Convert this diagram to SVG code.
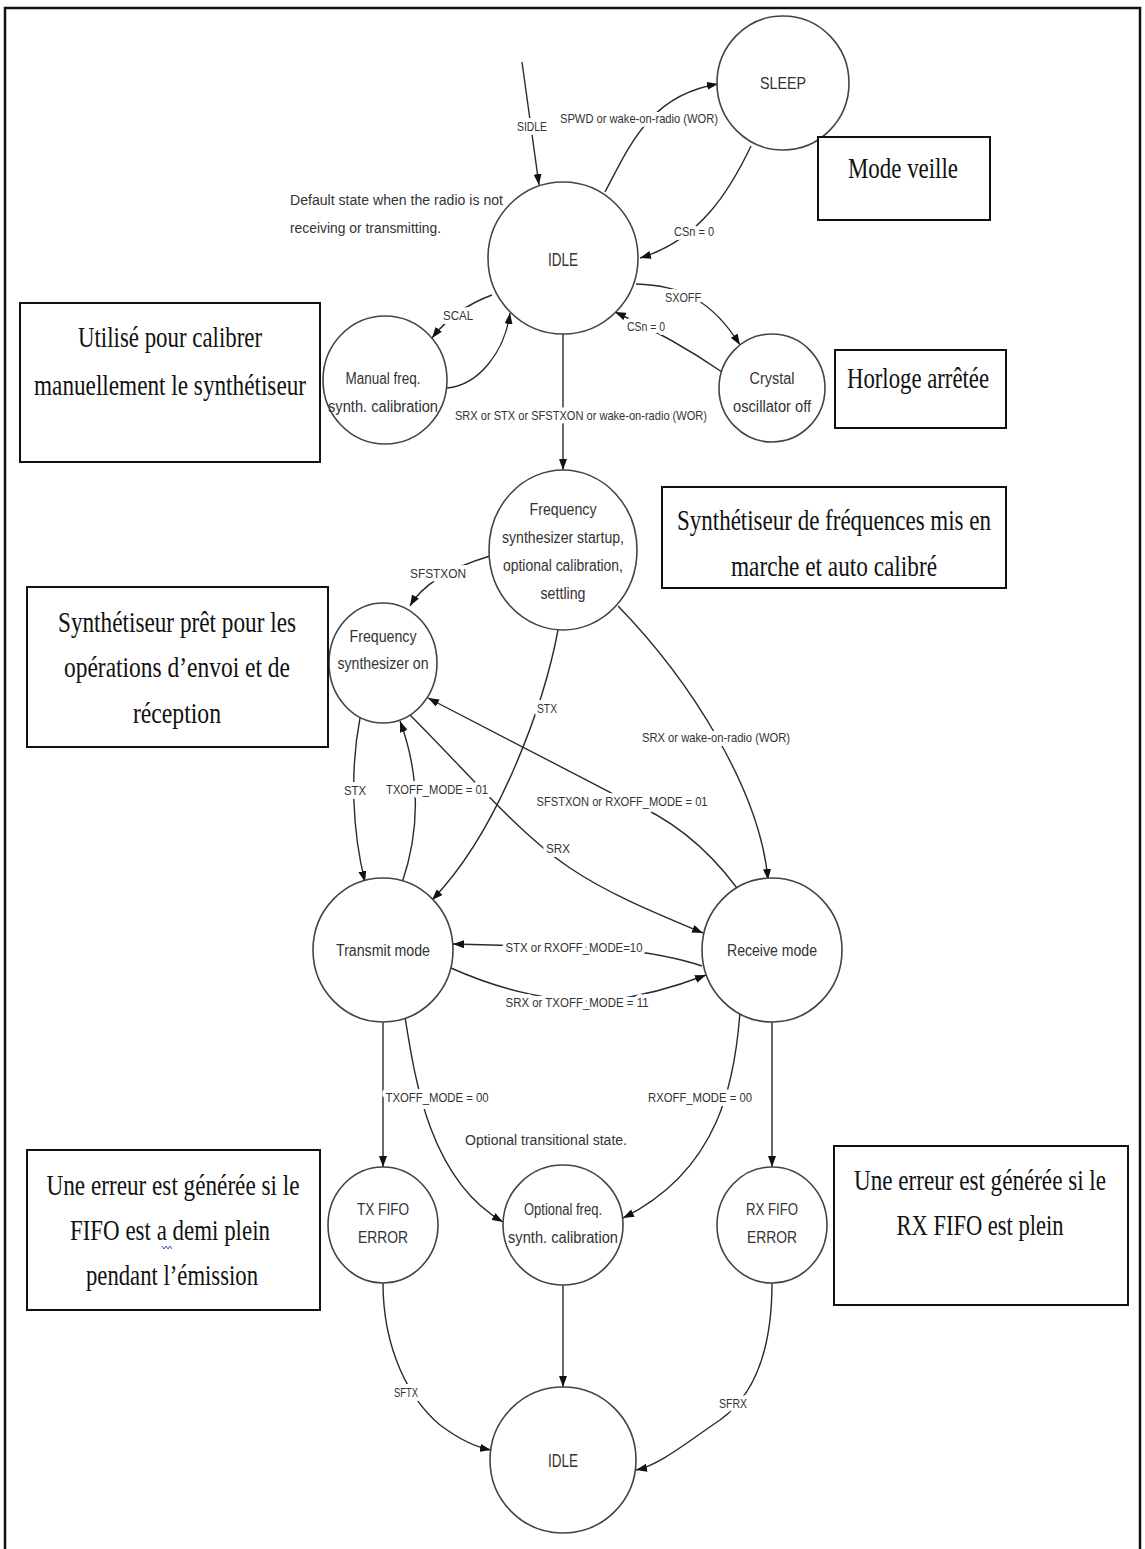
<svg xmlns="http://www.w3.org/2000/svg" width="1145" height="1549" viewBox="0 0 1145 1549">
<style>
.n{fill:#fff;stroke:#444;stroke-width:1.6}
.c{fill:none;stroke:#2a2a2a;stroke-width:1.4;marker-end:url(#ah)}
.nt,.lb{font-family:"Liberation Sans",Arial,sans-serif;fill:#333;text-anchor:middle;transform-box:fill-box;transform-origin:center;transform:scaleX(0.87)}
.nt{font-size:16px}
.lb{font-size:13px;paint-order:stroke;stroke:#fff;stroke-width:8px;stroke-linejoin:round}
.bx{fill:#fff;stroke:#111;stroke-width:2}
.bt{font-family:"Liberation Serif","Times New Roman",serif;font-size:30px;fill:#111;text-anchor:middle;transform-box:fill-box;transform-origin:center;transform:scaleX(0.76)}
</style>
<defs>
<marker id="ah" markerUnits="userSpaceOnUse" markerWidth="11" markerHeight="8" refX="11" refY="4" orient="auto">
<path d="M0,0 L11,4 L0,8 z" fill="#111"/>
</marker>
</defs>
<rect x="5" y="8" width="1135" height="1560" fill="#fff" stroke="#111" stroke-width="2.5"/>

<g id="connectors">
<path class="c" d="M522,62 L539,185"/>
<path class="c" d="M605,192 C630,145 650,95 718,84"/>
<path class="c" d="M751,146 C730,190 700,240 640,258"/>
<path class="c" d="M636,284 C680,285 712,300 740,345"/>
<path class="c" d="M722,372 C690,350 655,330 615,312"/>
<path class="c" d="M492,295 C470,303 450,315 432,338"/>
<path class="c" d="M447,388 C480,385 505,350 510,313"/>
<path class="c" d="M563,334 L563,470"/>
<path class="c" d="M490,556 C460,565 425,580 410,606"/>
<path class="c" d="M360,718 C350,770 352,830 365,882"/>
<path class="c" d="M402,883 C420,830 420,775 400,721"/>
<path class="c" d="M558,630 C545,700 500,830 432,900"/>
<path class="c" d="M618,606 C690,680 760,790 768,880"/>
<path class="c" d="M737,888 Q690,825 625,800 L428,698"/>
<path class="c" d="M410,715 C470,775 520,835 570,868 C610,895 660,915 703,933"/>
<path class="c" d="M702,966 Q670,955 610,948 L453,944"/>
<path class="c" d="M451,968 C500,990 560,1005 610,1000 C650,995 680,985 706,975"/>
<path class="c" d="M383,1020 L383,1167"/>
<path class="c" d="M405,1017 C415,1080 430,1180 503,1222"/>
<path class="c" d="M740,1012 C735,1080 720,1170 623,1218"/>
<path class="c" d="M772,1020 L772,1167"/>
<path class="c" d="M383,1283 C383,1350 410,1400 440,1425 C460,1440 475,1447 491,1450"/>
<path class="c" d="M563,1285 L563,1387"/>
<path class="c" d="M772,1283 C772,1350 755,1395 720,1420 C690,1440 660,1465 636,1470"/>
<g id="labels">
<text class="lb" x="532" y="131" textLength="34.5" lengthAdjust="spacingAndGlyphs">SIDLE</text>
<text class="lb" x="639" y="123" textLength="181.6" lengthAdjust="spacingAndGlyphs">SPWD or wake-on-radio (WOR)</text>
<text class="lb" x="694" y="236" textLength="46" lengthAdjust="spacingAndGlyphs">CSn = 0</text>
<text class="lb" x="683" y="302" textLength="41.4" lengthAdjust="spacingAndGlyphs">SXOFF</text>
<text class="lb" x="646" y="331" textLength="43.7" lengthAdjust="spacingAndGlyphs">CSn = 0</text>
<text class="lb" x="458" y="320" textLength="34.5" lengthAdjust="spacingAndGlyphs">SCAL</text>
<text class="lb" x="581" y="420" textLength="289.7" lengthAdjust="spacingAndGlyphs">SRX or STX or SFSTXON or wake-on-radio (WOR)</text>
<text class="lb" x="438" y="578" textLength="64.4" lengthAdjust="spacingAndGlyphs">SFSTXON</text>
<text class="lb" x="355" y="795" textLength="25.3" lengthAdjust="spacingAndGlyphs">STX</text>
<text class="lb" x="437" y="794" textLength="117.2" lengthAdjust="spacingAndGlyphs">TXOFF_MODE = 01</text>
<text class="lb" x="547" y="713" textLength="23" lengthAdjust="spacingAndGlyphs">STX</text>
<text class="lb" x="716" y="742" textLength="170.1" lengthAdjust="spacingAndGlyphs">SRX or wake-on-radio (WOR)</text>
<text class="lb" x="622" y="806" textLength="196.6" lengthAdjust="spacingAndGlyphs">SFSTXON or RXOFF_MODE = 01</text>
<text class="lb" x="558" y="853" textLength="27.6" lengthAdjust="spacingAndGlyphs">SRX</text>
<text class="lb" x="574" y="952" textLength="157.5" lengthAdjust="spacingAndGlyphs">STX or RXOFF_MODE=10</text>
<text class="lb" x="577" y="1007" textLength="164.4" lengthAdjust="spacingAndGlyphs">SRX or TXOFF_MODE = 11</text>
<text class="lb" x="437" y="1102" textLength="118.4" lengthAdjust="spacingAndGlyphs">TXOFF_MODE = 00</text>
<text class="lb" x="700" y="1102" textLength="119.5" lengthAdjust="spacingAndGlyphs">RXOFF_MODE = 00</text>
<text class="lb" x="406" y="1397" textLength="27.6" lengthAdjust="spacingAndGlyphs">SFTX</text>
<text class="lb" x="733" y="1408" textLength="32.2" lengthAdjust="spacingAndGlyphs">SFRX</text>
</g>
</g>

<g id="sleep"><ellipse class="n" cx="783" cy="83" rx="66" ry="67"/><text class="nt" x="783" y="89" style="font-size:17px" textLength="52.9" lengthAdjust="spacingAndGlyphs">SLEEP</text></g>
<g id="idle-top"><ellipse class="n" cx="563" cy="258" rx="75" ry="76"/><text class="nt" x="563" y="266" style="font-size:19px" textLength="34.5" lengthAdjust="spacingAndGlyphs">IDLE</text></g>
<g id="default-note">
<text class="nt" x="396.5" y="205" style="font-size:15px" textLength="244.8" lengthAdjust="spacingAndGlyphs">Default state when the radio is not</text>
<text class="nt" x="365.5" y="233" style="font-size:15px" textLength="173.6" lengthAdjust="spacingAndGlyphs">receiving or transmitting.</text>
</g>
<g id="manual-cal"><ellipse class="n" cx="385" cy="380" rx="62" ry="64"/>
<text class="nt" x="383" y="384" textLength="86.2" lengthAdjust="spacingAndGlyphs">Manual freq.</text>
<text class="nt" x="383" y="412" textLength="126.4" lengthAdjust="spacingAndGlyphs">synth. calibration</text></g>
<g id="crystal"><ellipse class="n" cx="772" cy="388" rx="53" ry="54"/>
<text class="nt" x="772" y="384" textLength="51.7" lengthAdjust="spacingAndGlyphs">Crystal</text>
<text class="nt" x="772" y="412" textLength="89.7" lengthAdjust="spacingAndGlyphs">oscillator off</text></g>
<g id="fs-startup"><ellipse class="n" cx="563" cy="550" rx="74" ry="80"/>
<text class="nt" x="563" y="515" textLength="77" lengthAdjust="spacingAndGlyphs">Frequency</text>
<text class="nt" x="563" y="543" textLength="140.2" lengthAdjust="spacingAndGlyphs">synthesizer startup,</text>
<text class="nt" x="563" y="571" textLength="137.9" lengthAdjust="spacingAndGlyphs">optional calibration,</text>
<text class="nt" x="563" y="599" textLength="51.7" lengthAdjust="spacingAndGlyphs">settling</text></g>
<g id="fs-on"><ellipse class="n" cx="383" cy="663" rx="54" ry="60"/>
<text class="nt" x="383" y="642" textLength="77" lengthAdjust="spacingAndGlyphs">Frequency</text>
<text class="nt" x="383" y="669" textLength="104.6" lengthAdjust="spacingAndGlyphs">synthesizer on</text></g>
<g id="transmit"><ellipse class="n" cx="383" cy="950" rx="70" ry="72"/><text class="nt" x="383" y="956" textLength="108" lengthAdjust="spacingAndGlyphs">Transmit mode</text></g>
<g id="receive"><ellipse class="n" cx="772" cy="950" rx="70" ry="72"/><text class="nt" x="772" y="956" textLength="103.4" lengthAdjust="spacingAndGlyphs">Receive mode</text></g>
<g id="tx-fifo"><ellipse class="n" cx="383" cy="1225" rx="55" ry="58"/>
<text class="nt" x="383" y="1215" textLength="59.8" lengthAdjust="spacingAndGlyphs">TX FIFO</text>
<text class="nt" x="383" y="1243" textLength="57.5" lengthAdjust="spacingAndGlyphs">ERROR</text></g>
<g id="opt-cal"><ellipse class="n" cx="563" cy="1225" rx="60" ry="60"/>
<text class="nt" x="563" y="1215" textLength="89.7" lengthAdjust="spacingAndGlyphs">Optional freq.</text>
<text class="nt" x="563" y="1243" textLength="126.4" lengthAdjust="spacingAndGlyphs">synth. calibration</text></g>
<g id="rx-fifo"><ellipse class="n" cx="772" cy="1225" rx="55" ry="58"/>
<text class="nt" x="772" y="1215" textLength="59.8" lengthAdjust="spacingAndGlyphs">RX FIFO</text>
<text class="nt" x="772" y="1243" textLength="57.5" lengthAdjust="spacingAndGlyphs">ERROR</text></g>
<g id="idle-bottom"><ellipse class="n" cx="563" cy="1460" rx="73" ry="73"/><text class="nt" x="563" y="1467" style="font-size:19px" textLength="34.5" lengthAdjust="spacingAndGlyphs">IDLE</text></g>
<g id="opt-note"><text class="nt" x="546" y="1145" style="font-size:15px" textLength="186.2" lengthAdjust="spacingAndGlyphs">Optional transitional state.</text></g>

<g id="box-veille"><rect class="bx" x="818" y="137" width="172" height="83"/><text class="bt" x="903" y="178" textLength="144.7" lengthAdjust="spacingAndGlyphs">Mode veille</text></g>
<g id="box-horloge"><rect class="bx" x="835" y="350" width="171" height="78"/><text class="bt" x="918" y="388" textLength="186.8" lengthAdjust="spacingAndGlyphs">Horloge arrêtée</text></g>
<g id="box-calibrer"><rect class="bx" x="20" y="303" width="300" height="159"/>
<text class="bt" x="170" y="347" textLength="242.1" lengthAdjust="spacingAndGlyphs">Utilisé pour calibrer</text>
<text class="bt" x="170" y="395" textLength="357.9" lengthAdjust="spacingAndGlyphs">manuellement le synthétiseur</text></g>
<g id="box-synth"><rect class="bx" x="662" y="487" width="344" height="101"/>
<text class="bt" x="834" y="530" textLength="413.2" lengthAdjust="spacingAndGlyphs">Synthétiseur de fréquences mis en</text>
<text class="bt" x="834" y="576" textLength="271.1" lengthAdjust="spacingAndGlyphs">marche et auto calibré</text></g>
<g id="box-pret"><rect class="bx" x="27" y="587" width="301" height="160"/>
<text class="bt" x="177" y="632" textLength="313.2" lengthAdjust="spacingAndGlyphs">Synthétiseur prêt pour les</text>
<text class="bt" x="177" y="677" textLength="297.4" lengthAdjust="spacingAndGlyphs">opérations d’envoi et de</text>
<text class="bt" x="177" y="723" textLength="115.8" lengthAdjust="spacingAndGlyphs">réception</text></g>
<g id="box-tx-err"><rect class="bx" x="27" y="1150" width="293" height="160"/>
<text class="bt" x="173" y="1195" textLength="332.9" lengthAdjust="spacingAndGlyphs">Une erreur est générée si le</text>
<text class="bt" x="170" y="1240" textLength="263.2" lengthAdjust="spacingAndGlyphs">FIFO est a demi plein</text>
<text class="bt" x="172" y="1285" textLength="226.3" lengthAdjust="spacingAndGlyphs">pendant l’émission</text>
<path d="M162,1246 l2,3 l2,-3 l2,3 l2,-3 l2,3" fill="none" stroke="#3355cc" stroke-width="1"/></g>
<g id="box-rx-err"><rect class="bx" x="834" y="1146" width="294" height="159"/>
<text class="bt" x="980" y="1190" textLength="331.6" lengthAdjust="spacingAndGlyphs">Une erreur est générée si le</text>
<text class="bt" x="980" y="1235" textLength="219.7" lengthAdjust="spacingAndGlyphs">RX FIFO est plein</text></g>
</svg>
